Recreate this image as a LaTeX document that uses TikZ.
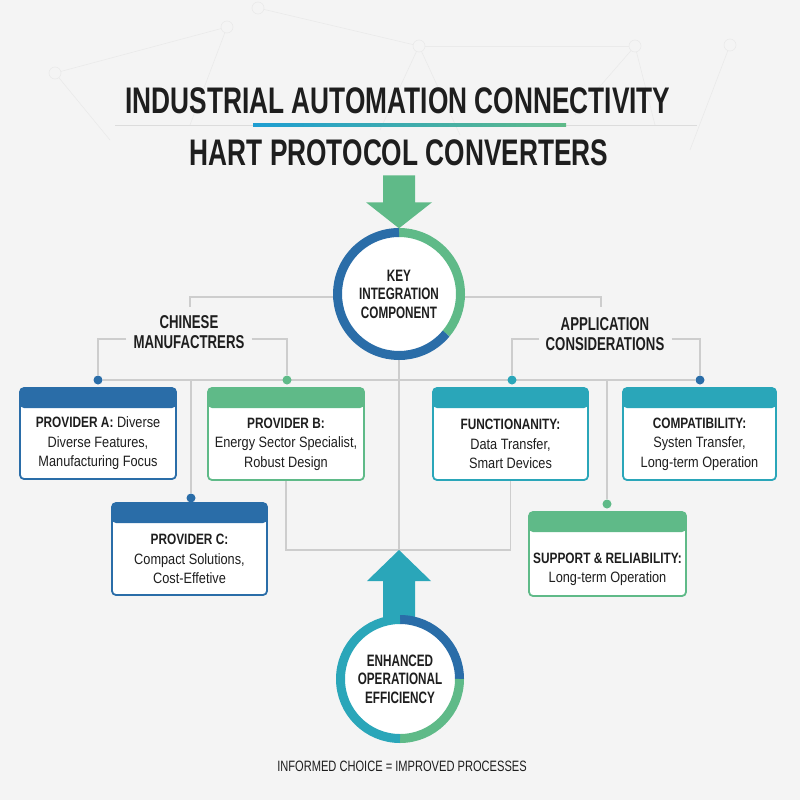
\documentclass[tikz,border=0pt]{standalone}
\usepackage{fontspec}
\setmainfont{Liberation Sans}
\newfontfamily\titlefont[FakeStretch=0.71]{Liberation Sans}
\newfontfamily\headfont[FakeStretch=0.79]{Liberation Sans}
\newfontfamily\bodyfont[FakeStretch=0.85]{Liberation Sans}
\newfontfamily\footfont[FakeStretch=0.74]{Liberation Sans}
\usepackage{tikz}
\pgfdeclarelayer{background}
\pgfsetlayers{background,main}
\definecolor{bgc}{HTML}{F4F4F4}
\definecolor{netc}{HTML}{EAEAEA}
\definecolor{wirec}{HTML}{CDCDCD}
\definecolor{inkc}{HTML}{1E1E1E}
\definecolor{cBlue}{HTML}{2A6DA8}
\definecolor{cGreen}{HTML}{5FBA88}
\definecolor{cTeal}{HTML}{2AA6B9}
\definecolor{cSky}{HTML}{1E9ED2}
\newcommand{\boxhead}[1]{{\headfont\bfseries #1}}

\begin{document}
\begin{tikzpicture}[x=1pt,y=-1pt,
  wire/.style={wirec,line width=1.2pt},
  dot/.style={circle,fill=#1,inner sep=0pt,minimum size=9pt},
  panel/.style={draw=#1,fill=white,line width=1.8pt,rounded corners=4pt,
    path picture={\fill[#1] (path picture bounding box.north west)
      rectangle ([yshift=-20pt]path picture bounding box.north east);}},
  ptext/.style={text=inkc,align=center,font=\bodyfont\fontsize{15}{19.5}\selectfont},
  hub/.style={circle,fill=white,minimum size=#1,inner sep=0pt,align=center,
    text=inkc,font=\titlefont\bfseries\fontsize{16.5}{18.5}\selectfont},
  ring/.style={line width=9pt},
  tag/.style={text=inkc,align=center,inner xsep=7pt,
    font=\titlefont\bfseries\fontsize{18.6}{20}\selectfont},
  titletext/.style={text=inkc,font=\titlefont\bfseries\fontsize{37}{40}\selectfont}]
  \useasboundingbox (0,0) rectangle (800,800);
  \begin{pgfonlayer}{background}
    \fill[bgc] (0,0) rectangle (800,800);
    % faint network behind the title
    \foreach \xa/\ya/\xb/\yb in {55/73/227/27, 227/27/190/125, 258/8/419/46,
        419/46/635/46, 419/46/380/130, 419/46/460/135, 635/46/575/115,
        635/46/655/125, 730/45/690/150, 55/73/110/140}{
      \draw[netc,line width=0.6pt] (\xa,\ya) -- (\xb,\yb);}
    \foreach \xa/\ya in {55/73, 227/27, 258/8, 419/46, 635/46, 730/45}{
      \draw[netc,line width=0.6pt,fill=bgc] (\xa,\ya) circle (6);}
  \end{pgfonlayer}

  % title block
  \node[titletext] (title) at (398,101) {INDUSTRIAL AUTOMATION CONNECTIVITY};
  \draw[wirec!70,line width=0.8pt] (115,125) -- (697,125);
  \shade[left color=cSky,right color=cGreen] (253,123.8) rectangle (566,126.6);
  \node[titletext] (subtitle) at (399,153) {HART PROTOCOL CONVERTERS};

  % hub at the top
  \node[hub=123pt] (key) at (399,294) {KEY\\INTEGRATION\\COMPONENT};
  \draw[ring,cGreen] (key.center) ++(-90:61.5) arc[start angle=-90,end angle=40,radius=61.5];
  \draw[ring,cBlue] (key.center) ++(40:61.5) arc[start angle=40,end angle=270,radius=61.5];
  \fill[cGreen] ([yshift=4pt]key.north) -- ++(33,-26) -- ++(-17,0) -- ++(0,-27)
    -- ++(-32,0) -- ++(0,27) -- ++(-17,0) -- cycle;

  % branch labels
  \node[tag] (maker) at (189,332) {CHINESE\\MANUFACTRERS};
  \node[tag] (usage) at (605,334) {APPLICATION\\CONSIDERATIONS};

  % dots on the rail
  \node[dot=cBlue] (dA) at (98,380) {};
  \node[dot=cGreen] (dB) at (287,380) {};
  \node[dot=cTeal] (dF) at (512,380) {};
  \node[dot=cBlue] (dK) at (700,380) {};
  \node[dot=cBlue] (dC) at (191,498) {};
  \node[dot=cGreen] (dS) at (607,504) {};
  \coordinate (kl) at (190,307);
  \coordinate (kr) at (601,307);
  \coordinate (join) at (399,550);

  % panels
  \node[panel=cBlue,minimum width=156pt,minimum height=91pt] (provA) at (98,433.5) {};
  \node[ptext] (provAt) at ([yshift=-10pt]provA.center)
    {\boxhead{PROVIDER A:} Diverse\\Diverse Features,\\Manufacturing Focus};
  \node[panel=cGreen,minimum width=156pt,minimum height=92pt] (provB) at (286,434) {};
  \node[ptext] (provBt) at ([yshift=-10pt]provB.center)
    {\boxhead{PROVIDER B:}\\Energy Sector Specialist,\\Robust Design};
  \node[panel=cTeal,minimum width=155pt,minimum height=92pt] (funct) at (510.5,434) {};
  \node[ptext] (functt) at ([yshift=-10pt]funct.center)
    {\boxhead{FUNCTIONANITY:}\\Data Transfer,\\Smart Devices};
  \node[panel=cTeal,minimum width=153pt,minimum height=92pt] (compat) at (699.5,434) {};
  \node[ptext] (compatt) at ([yshift=-10pt]compat.center)
    {\boxhead{COMPATIBILITY:}\\Systen Transfer,\\Long-term Operation};
  \node[panel=cBlue,minimum width=155pt,minimum height=92pt] (provC) at (189.5,549) {};
  \node[ptext] (provCt) at ([yshift=-10pt]provC.center)
    {\boxhead{PROVIDER C:}\\Compact Solutions,\\Cost-Effetive};
  \node[panel=cGreen,minimum width=157pt,minimum height=84pt] (supp) at (607.5,554) {};
  \node[ptext] (suppt) at ([yshift=-15.5pt]supp.center)
    {\boxhead{SUPPORT \& RELIABILITY:}\\Long-term Operation};

  % connectors
  \begin{pgfonlayer}{background}
    \draw[wire] ([yshift=-3pt]key.west) -| (kl);
    \draw[wire] ([yshift=-3pt]key.east) -| (kr);
    \draw[wire] ([yshift=-7pt]maker.west) -| (dA);
    \draw[wire] ([yshift=-7pt]maker.east) -| (dB);
    \draw[wire] ([yshift=-5pt]usage.west) -| (dF);
    \draw[wire] ([yshift=-5pt]usage.east) -| (dK);
    \draw[wire] (dA) -- (dK);
    \draw[wire] (dC |- dA) -- (dC);
    \draw[wire] (dS |- dA) -- (dS);
    \draw[wire] (key) -- (join);
    \draw[wire] (provB.south) |- (join) -| (funct.south);
  \end{pgfonlayer}

  % hub at the bottom
  \fill[cTeal] (join) -- ++(32,31) -- ++(-16,0) -- ++(0,40) -- ++(-32,0)
    -- ++(0,-40) -- ++(-16,0) -- cycle;
  \node[hub=119pt] (gain) at (400,679) {ENHANCED\\OPERATIONAL\\EFFICIENCY};
  \draw[ring,cBlue] (gain.center) ++(-90:59.5) arc[start angle=-90,end angle=0,radius=59.5];
  \draw[ring,cGreen] (gain.center) ++(0:59.5) arc[start angle=0,end angle=90,radius=59.5];
  \draw[ring,cTeal] (gain.center) ++(90:59.5) arc[start angle=90,end angle=270,radius=59.5];

  \node[text=inkc,font=\footfont\fontsize{15}{18}\selectfont] (foot) at (402,766)
    {INFORMED CHOICE = IMPROVED PROCESSES};
\end{tikzpicture}
\end{document}
